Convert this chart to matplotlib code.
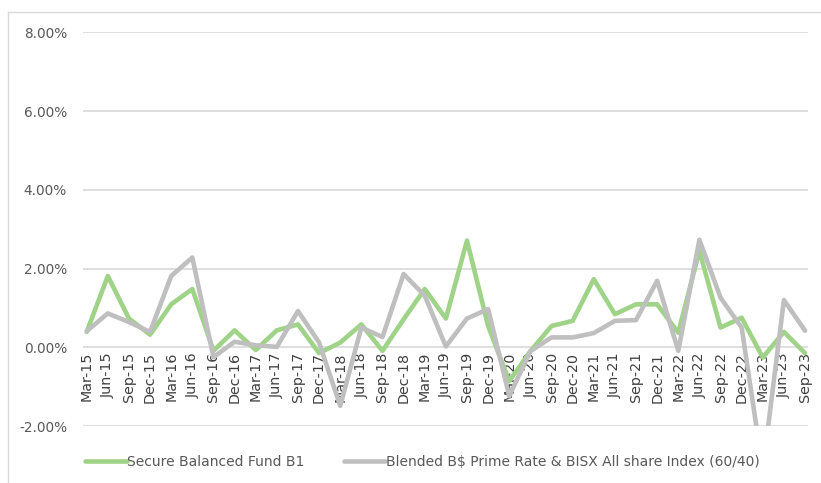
import matplotlib
matplotlib.use("Agg")
import matplotlib.pyplot as plt
from matplotlib.lines import Line2D
from matplotlib.ticker import FuncFormatter

categories = ["Mar-15", "Jun-15", "Sep-15", "Dec-15",
              "Mar-16", "Jun-16", "Sep-16", "Dec-16",
              "Mar-17", "Jun-17", "Sep-17", "Dec-17",
              "Mar-18", "Jun-18", "Sep-18", "Dec-18",
              "Mar-19", "Jun-19", "Sep-19", "Dec-19",
              "Mar-20", "Jun-20", "Sep-20", "Dec-20",
              "Mar-21", "Jun-21", "Sep-21", "Dec-21",
              "Mar-22", "Jun-22", "Sep-22", "Dec-22",
              "Mar-23", "Jun-23", "Sep-23"]

fund = [0.39, 1.81, 0.73, 0.32, 1.09, 1.48, -0.09, 0.43, -0.07, 0.43, 0.58, -0.15,
        0.12, 0.58, -0.09, 0.71, 1.48, 0.73, 2.71, 0.54, -0.86, -0.10, 0.54, 0.67,
        1.73, 0.84, 1.09, 1.09, 0.37, 2.45, 0.50, 0.75, -0.26, 0.39, -0.15]

benchmark = [0.41, 0.86, 0.64, 0.39, 1.81, 2.28, -0.25, 0.14, 0.05, 0.01, 0.92, 0.12,
             -1.49, 0.50, 0.26, 1.86, 1.31, 0.02, 0.73, 0.97, -1.24, -0.10, 0.25, 0.25,
             0.36, 0.67, 0.69, 1.69, -0.09, 2.73, 1.26, 0.50, -3.10, 1.20, 0.42]

series_names = ["Secure Balanced Fund B1",
                "Blended B$ Prime Rate & BISX All share Index (60/40)"]

yticks = [-2, 0, 2, 4, 6, 8]

W, H = 821, 483
fig = plt.figure(figsize=(W / 100, H / 100), dpi=100)

# chart-area border (top and left edges visible)
bx, by = 7.5 / W, 1 - 11.5 / H
fig.add_artist(Line2D([bx, 1.01], [by, by], transform=fig.transFigure,
                      color="#d9d9d9", lw=1.0))
fig.add_artist(Line2D([bx, bx], [-0.01, by], transform=fig.transFigure,
                      color="#d9d9d9", lw=1.0))

ax = fig.add_axes([83 / W, 1 - 426 / H, (808 - 83) / W, (426 - 32.3) / H])

x = list(range(len(categories)))
green = "#9fd387"
gray = "#bfbfbf"
l1, = ax.plot(x, fund, color=green, lw=3.3, solid_joinstyle="round",
              solid_capstyle="round", zorder=3)
l2, = ax.plot(x, benchmark, color=gray, lw=3.3, solid_joinstyle="round",
              solid_capstyle="round", zorder=4)

ax.set_ylim(-2, 8)
ax.set_xlim(-0.175, 34.14)
ax.set_yticks(yticks)
ax.yaxis.set_major_formatter(FuncFormatter(lambda v, p: f"{v:.2f}%"))
ax.tick_params(axis="y", length=0, pad=11.5, labelsize=9.8, labelcolor="#595959")
ax.set_xticks([])
ax.grid(axis="y", color="#d9d9d9", linewidth=1.2)
ax.set_axisbelow(True)
for s in ax.spines.values():
    s.set_visible(False)

# category labels hanging below the 0% line
for i, c in enumerate(categories):
    ax.annotate(c, xy=(i, 0), xytext=(0, -3.5), textcoords="offset points",
                rotation=90, ha="center", va="top", fontsize=10.3,
                color="#404040", zorder=2)

fig.legend([l1, l2], series_names, loc="center left",
           bbox_to_anchor=(85 / W, 1 - 462 / H), bbox_transform=fig.transFigure,
           ncol=2, frameon=False, borderpad=0, borderaxespad=0,
           handlelength=3.0, handletextpad=0.05, columnspacing=2.8,
           fontsize=10, labelcolor="#595959")

fig.savefig("out.png", dpi=100)
